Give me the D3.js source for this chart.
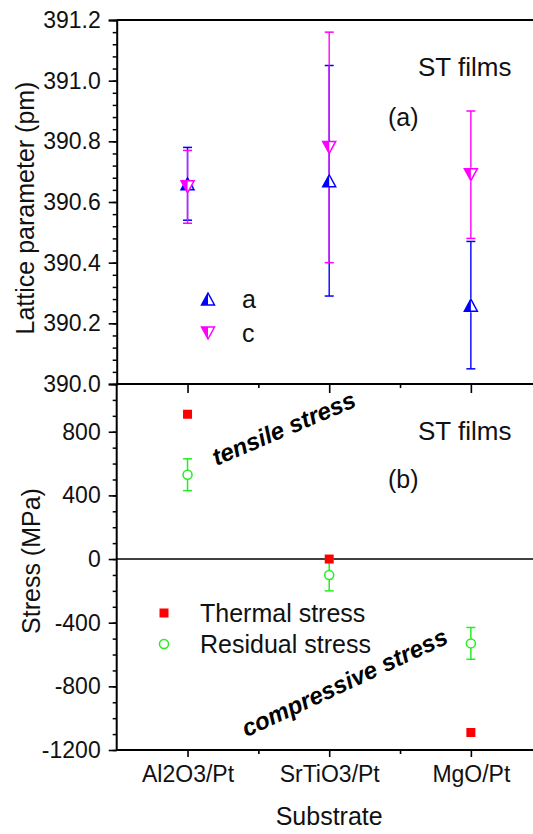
<!DOCTYPE html>
<html>
<head>
<meta charset="utf-8">
<script src="https://cdn.jsdelivr.net/npm/d3@7"></script>
<style>
  html, body { margin: 0; padding: 0; background: #fff; }
  svg { display: block; font-family: Arial, "Liberation Sans", sans-serif; }
</style>
</head>
<body>
<svg id="chart" width="533" height="834"></svg>
<script>
// Substrates on the shared x axis
const substrates = ["Al2O3/Pt", "SrTiO3/Pt", "MgO/Pt"];

// Panel (a): lattice parameters (pm) with error half-widths
const latticeA = [390.66, 390.67, 390.26];
const latticeAErr = [0.12, 0.38, 0.21];
const latticeC = [390.65, 390.78, 390.69];
const latticeCErr = [0.12, 0.38, 0.21];

// Panel (b): stress (MPa)
const thermalStress = [910, 0, -1090];
const residualStress = [530, -100, -530];
const residualErr = [100, 100, 100];

// Tick values
const latticeTicks = [390.0, 390.2, 390.4, 390.6, 390.8, 391.0, 391.2];
const stressTicks = [-1200, -800, -400, 0, 400, 800];

const svg = d3.select("#chart");

const xLeft = 116.7, xRight = 541.7;
const x = d3.scaleLinear().domain([0.5, 3.5]).range([xLeft, xRight]);
const yA = d3.scaleLinear().domain([390, 391.2]).range([384, 20]);
const yB = d3.scaleLinear().domain([-1200, 1100]).range([750, 384]);

const blue = "#0000ff", magenta = "#ff00ff", red = "#ff0000", green = "#22ee22";
const fontTick = 23, fontBig = 25;
const ink = "#111";

// ---------- frame lines ----------
const frame = svg.append("g").attr("stroke", "#000").attr("stroke-width", 2);
frame.append("line").attr("x1", xLeft).attr("x2", 533).attr("y1", yA(391.2)).attr("y2", yA(391.2));
frame.append("line").attr("x1", xLeft).attr("x2", 533).attr("y1", 384).attr("y2", 384);
frame.append("line").attr("x1", xLeft).attr("x2", 533).attr("y1", 750).attr("y2", 750);
// zero line in the stress panel
svg.append("line").attr("x1", xLeft).attr("x2", 533)
  .attr("y1", yB(0)).attr("y2", yB(0)).attr("stroke", "#000").attr("stroke-width", 1.6);

// ---------- y axes ----------
function styleAxis(g) {
  g.select(".domain").attr("stroke-width", 2);
  g.selectAll(".tick line").attr("stroke-width", 1.6);
  g.selectAll(".tick text").attr("font-size", fontTick).attr("fill", ink)
    .attr("font-family", "Arial, 'Liberation Sans', sans-serif");
}
const hyphenInt = d => String(d);

// minor ticks, lattice
svg.append("g").attr("transform", `translate(${xLeft},0)`)
  .call(d3.axisLeft(yA).tickValues(d3.range(390, 391.2001, 0.04)).tickSize(4).tickFormat(""))
  .call(g => { g.select(".domain").remove(); g.selectAll(".tick line").attr("stroke-width", 1.5); });
svg.append("g").attr("transform", `translate(${xLeft},0)`)
  .call(d3.axisLeft(yA).tickValues(latticeTicks).tickSize(8).tickPadding(8).tickFormat(d => d.toFixed(1)))
  .call(styleAxis);

// minor ticks, stress
svg.append("g").attr("transform", `translate(${xLeft},0)`)
  .call(d3.axisLeft(yB).tickValues(d3.range(-1200, 1001, 100)).tickSize(4).tickFormat(""))
  .call(g => { g.select(".domain").remove(); g.selectAll(".tick line").attr("stroke-width", 1.5); });
svg.append("g").attr("transform", `translate(${xLeft},0)`)
  .call(d3.axisLeft(yB).tickValues(stressTicks).tickSize(8).tickPadding(8).tickFormat(hyphenInt))
  .call(styleAxis)
  .call(g => g.select(".domain").attr("d", `M-0,${yB(-1200)}V${yB(1100)}`));

// ---------- x axis (bottom) ----------
svg.append("g").attr("transform", "translate(0,750)")
  .call(d3.axisBottom(x).tickValues([1.5, 2.5]).tickSize(4).tickFormat(""))
  .call(g => { g.select(".domain").remove(); g.selectAll(".tick line").attr("stroke-width", 1.6); });
svg.append("g").attr("transform", "translate(0,750)")
  .call(d3.axisBottom(x).tickValues([1, 2, 3]).tickSize(7).tickPadding(9)
    .tickFormat(d => substrates[d - 1]))
  .call(g => g.select(".domain").remove())
  .call(g => {
    g.selectAll(".tick line").attr("stroke-width", 1.6);
    g.selectAll(".tick text").attr("font-size", fontTick).attr("fill", ink)
      .attr("font-family", "Arial, 'Liberation Sans', sans-serif");
  });

// inward ticks along the top edge of the stress panel
svg.append("g").attr("transform", "translate(0,384)")
  .call(d3.axisBottom(x).tickValues([1, 2, 3]).tickSize(9).tickFormat(""))
  .call(g => { g.select(".domain").remove(); g.selectAll(".tick line").attr("stroke-width", 1.6); });
svg.append("g").attr("transform", "translate(0,384)")
  .call(d3.axisBottom(x).tickValues([1.5, 2.5]).tickSize(4).tickFormat(""))
  .call(g => { g.select(".domain").remove(); g.selectAll(".tick line").attr("stroke-width", 1.6); });

// ---------- axis titles ----------
svg.append("text").attr("transform", "translate(34,208) rotate(-90)")
  .attr("text-anchor", "middle").attr("font-size", fontBig).attr("fill", ink)
  .text("Lattice parameter (pm)");
svg.append("text").attr("transform", "translate(40,561) rotate(-90)")
  .attr("text-anchor", "middle").attr("font-size", fontBig).attr("fill", ink)
  .text("Stress (MPa)");
svg.append("text").attr("x", x(2)).attr("y", 825)
  .attr("text-anchor", "middle").attr("font-size", fontBig).attr("fill", ink)
  .text("Substrate");

// ---------- panel (a) markers ----------
function triPath(cx, cy, up, half) {
  const w = 6.5, h = 6;
  if (up) {
    return half
      ? `M${cx},${cy - h}L${cx - w},${cy + h}L${cx},${cy + h}Z`
      : `M${cx},${cy - h}L${cx - w},${cy + h}L${cx + w},${cy + h}Z`;
  }
  return half
    ? `M${cx},${cy + h}L${cx - w},${cy - h}L${cx},${cy - h}Z`
    : `M${cx},${cy + h}L${cx - w},${cy - h}L${cx + w},${cy - h}Z`;
}
function drawTri(g, cx, cy, up, color) {
  g.append("path").attr("d", triPath(cx, cy, up, false))
    .attr("fill", "#fff").attr("stroke", color).attr("stroke-width", 1.5);
  g.append("path").attr("d", triPath(cx, cy, up, true)).attr("fill", color);
}
function drawErr(g, cx, v, e, scale, color, gap, width) {
  const yt = scale(v + e), yb = scale(v - e), yc = scale(v);
  g.append("line").attr("x1", cx).attr("x2", cx).attr("y1", yt).attr("y2", yc - gap)
    .attr("stroke", color).attr("stroke-width", width);
  g.append("line").attr("x1", cx).attr("x2", cx).attr("y1", yc + gap).attr("y2", yb)
    .attr("stroke", color).attr("stroke-width", width);
  [yt, yb].forEach(yy => g.append("line").attr("x1", cx - 4.5).attr("x2", cx + 4.5)
    .attr("y1", yy).attr("y2", yy).attr("stroke", color).attr("stroke-width", 1.5));
}

const gA = svg.append("g");
latticeA.forEach((v, i) => drawErr(gA, x(i + 1), v, latticeAErr[i], yA, blue, 7, 1.4));
latticeC.forEach((v, i) => drawErr(gA, x(i + 1), v, latticeCErr[i], yA, magenta, 7, 1.4));
latticeA.forEach((v, i) => drawTri(gA, x(i + 1), yA(v), true, blue));
latticeC.forEach((v, i) => drawTri(gA, x(i + 1), yA(v), false, magenta));

// legend (a)
drawTri(svg, 208, 299, true, blue);
drawTri(svg, 208, 333, false, magenta);
svg.append("text").attr("x", 242).attr("y", 308).attr("font-size", fontBig).attr("fill", ink).text("a");
svg.append("text").attr("x", 242).attr("y", 342).attr("font-size", fontBig).attr("fill", ink).text("c");

svg.append("text").attr("x", 418).attr("y", 76).attr("font-size", 26).attr("fill", ink).text("ST films");
svg.append("text").attr("x", 388).attr("y", 126).attr("font-size", fontBig).attr("fill", ink).text("(a)");

// ---------- panel (b) markers ----------
const gB = svg.append("g");
residualStress.forEach((v, i) => drawErr(gB, x(i + 1), v, residualErr[i], yB, green, 4.5, 1.5));
residualStress.forEach((v, i) => gB.append("circle").attr("cx", x(i + 1)).attr("cy", yB(v))
  .attr("r", 4.5).attr("fill", "#fff").attr("stroke", green).attr("stroke-width", 1.5));
thermalStress.forEach((v, i) => gB.append("rect").attr("x", x(i + 1) - 4.5).attr("y", yB(v) - 4.5)
  .attr("width", 9).attr("height", 9).attr("fill", red));

// legend (b)
svg.append("rect").attr("x", 159.5).attr("y", 608.5).attr("width", 9).attr("height", 9).attr("fill", red);
svg.append("circle").attr("cx", 164).attr("cy", 644).attr("r", 4.5)
  .attr("fill", "#fff").attr("stroke", green).attr("stroke-width", 1.5);
svg.append("text").attr("x", 200).attr("y", 622).attr("font-size", fontBig).attr("fill", ink).text("Thermal stress");
svg.append("text").attr("x", 200).attr("y", 653).attr("font-size", fontBig).attr("fill", ink).text("Residual stress");

svg.append("text").attr("x", 418).attr("y", 440).attr("font-size", 26).attr("fill", ink).text("ST films");
svg.append("text").attr("x", 388).attr("y", 488).attr("font-size", fontBig).attr("fill", ink).text("(b)");

// slanted annotations
svg.append("text").attr("transform", "translate(287,436) rotate(-23)")
  .attr("text-anchor", "middle").attr("font-size", 24).attr("font-weight", "bold")
  .attr("font-style", "italic").attr("fill", "#000").text("tensile stress");
svg.append("text").attr("transform", "translate(348,690) rotate(-25)")
  .attr("text-anchor", "middle").attr("font-size", 24).attr("font-weight", "bold")
  .attr("font-style", "italic").attr("fill", "#000").text("compressive stress");
</script>
</body>
</html>
